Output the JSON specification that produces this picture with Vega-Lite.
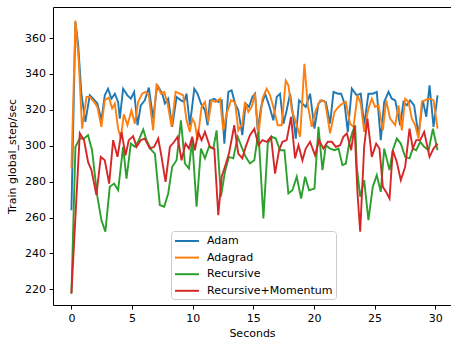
{
  "$schema": "https://vega.github.io/schema/vega-lite/v6.json",
  "width": 398,
  "height": 298,
  "autosize": "none",
  "padding": {"left": 53, "top": 7, "right": 0, "bottom": 40},
  "background": "white",
  "config": {
    "font": "DejaVu Sans",
    "view": {"stroke": null},
    "axis": {
      "grid": false,
      "domainColor": "black",
      "domainWidth": 1,
      "tickColor": "black",
      "tickWidth": 1,
      "tickSize": 4,
      "labelFont": "DejaVu Sans",
      "labelFontSize": 11,
      "labelColor": "black",
      "labelPadding": 3.5,
      "titleFont": "DejaVu Sans",
      "titleFontSize": 11,
      "titleFontWeight": "normal",
      "titleColor": "black"
    },
    "legend": {
      "orient": "none",
      "legendX": 118,
      "legendY": 224,
      "symbolType": "M-1,0H3",
      "symbolSize": 144,
      "symbolStrokeWidth": 2,
      "labelFont": "DejaVu Sans",
      "labelFontSize": 11,
      "labelColor": "black",
      "labelOffset": 19,
      "rowPadding": 4.6,
      "padding": 3,
      "fillColor": "white",
      "strokeColor": "#cccccc",
      "cornerRadius": 3
    }
  },
  "data": {
    "values": [
      {"optimizer": "Adam", "seconds": 0, "rate": 264.1},
      {"optimizer": "Adam", "seconds": 0.33, "rate": 368.9},
      {"optimizer": "Adam", "seconds": 0.55, "rate": 356.8},
      {"optimizer": "Adam", "seconds": 0.82, "rate": 329.0},
      {"optimizer": "Adam", "seconds": 1.15, "rate": 313.3},
      {"optimizer": "Adam", "seconds": 1.51, "rate": 328.1},
      {"optimizer": "Adam", "seconds": 1.79, "rate": 326.2},
      {"optimizer": "Adam", "seconds": 2.14, "rate": 323.5},
      {"optimizer": "Adam", "seconds": 2.47, "rate": 314.2},
      {"optimizer": "Adam", "seconds": 2.75, "rate": 328.1},
      {"optimizer": "Adam", "seconds": 3.02, "rate": 331.8},
      {"optimizer": "Adam", "seconds": 3.3, "rate": 326.2},
      {"optimizer": "Adam", "seconds": 3.58, "rate": 329.0},
      {"optimizer": "Adam", "seconds": 3.85, "rate": 324.4},
      {"optimizer": "Adam", "seconds": 3.99, "rate": 315.1},
      {"optimizer": "Adam", "seconds": 4.26, "rate": 331.8},
      {"optimizer": "Adam", "seconds": 4.62, "rate": 328.1},
      {"optimizer": "Adam", "seconds": 4.9, "rate": 326.2},
      {"optimizer": "Adam", "seconds": 5.17, "rate": 330.0},
      {"optimizer": "Adam", "seconds": 5.45, "rate": 311.4},
      {"optimizer": "Adam", "seconds": 5.72, "rate": 322.5},
      {"optimizer": "Adam", "seconds": 6.05, "rate": 325.3},
      {"optimizer": "Adam", "seconds": 6.38, "rate": 332.4},
      {"optimizer": "Adam", "seconds": 6.74, "rate": 315.1},
      {"optimizer": "Adam", "seconds": 7.02, "rate": 330.9},
      {"optimizer": "Adam", "seconds": 7.16, "rate": 332.8},
      {"optimizer": "Adam", "seconds": 7.49, "rate": 329.0},
      {"optimizer": "Adam", "seconds": 7.71, "rate": 323.5},
      {"optimizer": "Adam", "seconds": 7.98, "rate": 326.2},
      {"optimizer": "Adam", "seconds": 8.31, "rate": 310.5},
      {"optimizer": "Adam", "seconds": 8.67, "rate": 327.2},
      {"optimizer": "Adam", "seconds": 9.03, "rate": 325.3},
      {"optimizer": "Adam", "seconds": 9.3, "rate": 324.4},
      {"optimizer": "Adam", "seconds": 9.49, "rate": 329.0},
      {"optimizer": "Adam", "seconds": 9.77, "rate": 311.4},
      {"optimizer": "Adam", "seconds": 10.13, "rate": 331.8},
      {"optimizer": "Adam", "seconds": 10.4, "rate": 329.0},
      {"optimizer": "Adam", "seconds": 10.68, "rate": 323.5},
      {"optimizer": "Adam", "seconds": 11.01, "rate": 319.8},
      {"optimizer": "Adam", "seconds": 11.23, "rate": 311.4},
      {"optimizer": "Adam", "seconds": 11.42, "rate": 325.3},
      {"optimizer": "Adam", "seconds": 11.78, "rate": 326.2},
      {"optimizer": "Adam", "seconds": 12.11, "rate": 324.4},
      {"optimizer": "Adam", "seconds": 12.39, "rate": 325.3},
      {"optimizer": "Adam", "seconds": 12.61, "rate": 301.2},
      {"optimizer": "Adam", "seconds": 12.94, "rate": 330.0},
      {"optimizer": "Adam", "seconds": 13.21, "rate": 330.9},
      {"optimizer": "Adam", "seconds": 13.49, "rate": 323.5},
      {"optimizer": "Adam", "seconds": 13.76, "rate": 319.8},
      {"optimizer": "Adam", "seconds": 14.09, "rate": 305.9},
      {"optimizer": "Adam", "seconds": 14.37, "rate": 323.5},
      {"optimizer": "Adam", "seconds": 14.64, "rate": 321.6},
      {"optimizer": "Adam", "seconds": 14.92, "rate": 327.2},
      {"optimizer": "Adam", "seconds": 15.14, "rate": 329.0},
      {"optimizer": "Adam", "seconds": 15.36, "rate": 308.6},
      {"optimizer": "Adam", "seconds": 15.64, "rate": 321.6},
      {"optimizer": "Adam", "seconds": 15.97, "rate": 329.0},
      {"optimizer": "Adam", "seconds": 16.3, "rate": 322.5},
      {"optimizer": "Adam", "seconds": 16.65, "rate": 314.2},
      {"optimizer": "Adam", "seconds": 16.93, "rate": 327.2},
      {"optimizer": "Adam", "seconds": 17.2, "rate": 329.0},
      {"optimizer": "Adam", "seconds": 17.48, "rate": 312.3},
      {"optimizer": "Adam", "seconds": 17.75, "rate": 319.8},
      {"optimizer": "Adam", "seconds": 18.03, "rate": 329.0},
      {"optimizer": "Adam", "seconds": 18.31, "rate": 315.1},
      {"optimizer": "Adam", "seconds": 18.5, "rate": 304.0},
      {"optimizer": "Adam", "seconds": 18.77, "rate": 325.3},
      {"optimizer": "Adam", "seconds": 19.05, "rate": 323.5},
      {"optimizer": "Adam", "seconds": 19.32, "rate": 321.6},
      {"optimizer": "Adam", "seconds": 19.68, "rate": 329.0},
      {"optimizer": "Adam", "seconds": 20.04, "rate": 309.5},
      {"optimizer": "Adam", "seconds": 20.37, "rate": 323.5},
      {"optimizer": "Adam", "seconds": 20.65, "rate": 325.3},
      {"optimizer": "Adam", "seconds": 20.98, "rate": 324.4},
      {"optimizer": "Adam", "seconds": 21.33, "rate": 312.3},
      {"optimizer": "Adam", "seconds": 21.61, "rate": 330.0},
      {"optimizer": "Adam", "seconds": 21.97, "rate": 329.0},
      {"optimizer": "Adam", "seconds": 22.24, "rate": 329.0},
      {"optimizer": "Adam", "seconds": 22.52, "rate": 323.5},
      {"optimizer": "Adam", "seconds": 22.79, "rate": 307.7},
      {"optimizer": "Adam", "seconds": 23.12, "rate": 331.8},
      {"optimizer": "Adam", "seconds": 23.53, "rate": 328.1},
      {"optimizer": "Adam", "seconds": 23.86, "rate": 329.0},
      {"optimizer": "Adam", "seconds": 24.14, "rate": 311.4},
      {"optimizer": "Adam", "seconds": 24.49, "rate": 329.0},
      {"optimizer": "Adam", "seconds": 24.85, "rate": 329.0},
      {"optimizer": "Adam", "seconds": 25.18, "rate": 330.0},
      {"optimizer": "Adam", "seconds": 25.51, "rate": 303.1},
      {"optimizer": "Adam", "seconds": 25.79, "rate": 324.4},
      {"optimizer": "Adam", "seconds": 26.15, "rate": 330.0},
      {"optimizer": "Adam", "seconds": 26.42, "rate": 326.2},
      {"optimizer": "Adam", "seconds": 26.7, "rate": 325.3},
      {"optimizer": "Adam", "seconds": 27.11, "rate": 311.4},
      {"optimizer": "Adam", "seconds": 27.38, "rate": 324.4},
      {"optimizer": "Adam", "seconds": 27.66, "rate": 322.5},
      {"optimizer": "Adam", "seconds": 27.93, "rate": 325.3},
      {"optimizer": "Adam", "seconds": 28.26, "rate": 322.5},
      {"optimizer": "Adam", "seconds": 28.62, "rate": 305.9},
      {"optimizer": "Adam", "seconds": 28.98, "rate": 325.3},
      {"optimizer": "Adam", "seconds": 29.26, "rate": 316.1},
      {"optimizer": "Adam", "seconds": 29.53, "rate": 333.7},
      {"optimizer": "Adam", "seconds": 29.86, "rate": 310.5},
      {"optimizer": "Adam", "seconds": 30.19, "rate": 328.1},

      {"optimizer": "Adagrad", "seconds": 0, "rate": 287.3},
      {"optimizer": "Adagrad", "seconds": 0.33, "rate": 369.8},
      {"optimizer": "Adagrad", "seconds": 0.6, "rate": 347.6},
      {"optimizer": "Adagrad", "seconds": 0.88, "rate": 309.5},
      {"optimizer": "Adagrad", "seconds": 1.24, "rate": 327.2},
      {"optimizer": "Adagrad", "seconds": 1.51, "rate": 327.2},
      {"optimizer": "Adagrad", "seconds": 1.87, "rate": 324.4},
      {"optimizer": "Adagrad", "seconds": 2.14, "rate": 321.6},
      {"optimizer": "Adagrad", "seconds": 2.47, "rate": 310.5},
      {"optimizer": "Adagrad", "seconds": 2.75, "rate": 325.3},
      {"optimizer": "Adagrad", "seconds": 3.08, "rate": 326.9},
      {"optimizer": "Adagrad", "seconds": 3.36, "rate": 320.8},
      {"optimizer": "Adagrad", "seconds": 3.58, "rate": 323.5},
      {"optimizer": "Adagrad", "seconds": 3.85, "rate": 309.5},
      {"optimizer": "Adagrad", "seconds": 4.07, "rate": 304.0},
      {"optimizer": "Adagrad", "seconds": 4.32, "rate": 317.5},
      {"optimizer": "Adagrad", "seconds": 4.62, "rate": 311.4},
      {"optimizer": "Adagrad", "seconds": 4.95, "rate": 319.8},
      {"optimizer": "Adagrad", "seconds": 5.23, "rate": 312.3},
      {"optimizer": "Adagrad", "seconds": 5.5, "rate": 324.4},
      {"optimizer": "Adagrad", "seconds": 5.83, "rate": 329.0},
      {"optimizer": "Adagrad", "seconds": 6.11, "rate": 330.0},
      {"optimizer": "Adagrad", "seconds": 6.38, "rate": 328.1},
      {"optimizer": "Adagrad", "seconds": 6.74, "rate": 308.6},
      {"optimizer": "Adagrad", "seconds": 7.02, "rate": 334.6},
      {"optimizer": "Adagrad", "seconds": 7.38, "rate": 329.0},
      {"optimizer": "Adagrad", "seconds": 7.65, "rate": 330.0},
      {"optimizer": "Adagrad", "seconds": 7.93, "rate": 323.5},
      {"optimizer": "Adagrad", "seconds": 8.26, "rate": 310.5},
      {"optimizer": "Adagrad", "seconds": 8.59, "rate": 330.0},
      {"optimizer": "Adagrad", "seconds": 8.94, "rate": 329.0},
      {"optimizer": "Adagrad", "seconds": 9.22, "rate": 328.1},
      {"optimizer": "Adagrad", "seconds": 9.49, "rate": 314.2},
      {"optimizer": "Adagrad", "seconds": 9.77, "rate": 307.7},
      {"optimizer": "Adagrad", "seconds": 9.96, "rate": 315.1},
      {"optimizer": "Adagrad", "seconds": 10.18, "rate": 312.3},
      {"optimizer": "Adagrad", "seconds": 10.4, "rate": 303.1},
      {"optimizer": "Adagrad", "seconds": 10.73, "rate": 321.6},
      {"optimizer": "Adagrad", "seconds": 11.01, "rate": 324.4},
      {"optimizer": "Adagrad", "seconds": 11.28, "rate": 313.3},
      {"optimizer": "Adagrad", "seconds": 11.56, "rate": 325.3},
      {"optimizer": "Adagrad", "seconds": 11.89, "rate": 324.4},
      {"optimizer": "Adagrad", "seconds": 12.25, "rate": 326.2},
      {"optimizer": "Adagrad", "seconds": 12.52, "rate": 308.6},
      {"optimizer": "Adagrad", "seconds": 12.8, "rate": 317.9},
      {"optimizer": "Adagrad", "seconds": 13.16, "rate": 325.3},
      {"optimizer": "Adagrad", "seconds": 13.49, "rate": 324.4},
      {"optimizer": "Adagrad", "seconds": 13.76, "rate": 308.6},
      {"optimizer": "Adagrad", "seconds": 14.09, "rate": 312.3},
      {"optimizer": "Adagrad", "seconds": 14.31, "rate": 324.4},
      {"optimizer": "Adagrad", "seconds": 14.59, "rate": 318.9},
      {"optimizer": "Adagrad", "seconds": 14.86, "rate": 321.6},
      {"optimizer": "Adagrad", "seconds": 15.14, "rate": 329.0},
      {"optimizer": "Adagrad", "seconds": 15.42, "rate": 305.9},
      {"optimizer": "Adagrad", "seconds": 15.75, "rate": 326.2},
      {"optimizer": "Adagrad", "seconds": 16.1, "rate": 331.8},
      {"optimizer": "Adagrad", "seconds": 16.38, "rate": 328.1},
      {"optimizer": "Adagrad", "seconds": 16.65, "rate": 321.6},
      {"optimizer": "Adagrad", "seconds": 17.01, "rate": 311.4},
      {"optimizer": "Adagrad", "seconds": 17.34, "rate": 311.4},
      {"optimizer": "Adagrad", "seconds": 17.67, "rate": 336.3},
      {"optimizer": "Adagrad", "seconds": 17.89, "rate": 333.7},
      {"optimizer": "Adagrad", "seconds": 18.17, "rate": 319.8},
      {"optimizer": "Adagrad", "seconds": 18.5, "rate": 313.3},
      {"optimizer": "Adagrad", "seconds": 18.86, "rate": 305.0},
      {"optimizer": "Adagrad", "seconds": 19.21, "rate": 345.7},
      {"optimizer": "Adagrad", "seconds": 19.49, "rate": 322.5},
      {"optimizer": "Adagrad", "seconds": 19.82, "rate": 310.5},
      {"optimizer": "Adagrad", "seconds": 20.15, "rate": 319.8},
      {"optimizer": "Adagrad", "seconds": 20.51, "rate": 325.3},
      {"optimizer": "Adagrad", "seconds": 20.92, "rate": 324.4},
      {"optimizer": "Adagrad", "seconds": 21.33, "rate": 306.9},
      {"optimizer": "Adagrad", "seconds": 21.69, "rate": 318.9},
      {"optimizer": "Adagrad", "seconds": 22.02, "rate": 321.6},
      {"optimizer": "Adagrad", "seconds": 22.35, "rate": 323.5},
      {"optimizer": "Adagrad", "seconds": 22.63, "rate": 324.4},
      {"optimizer": "Adagrad", "seconds": 22.98, "rate": 312.3},
      {"optimizer": "Adagrad", "seconds": 23.26, "rate": 310.5},
      {"optimizer": "Adagrad", "seconds": 23.59, "rate": 328.1},
      {"optimizer": "Adagrad", "seconds": 23.86, "rate": 323.5},
      {"optimizer": "Adagrad", "seconds": 24.14, "rate": 307.7},
      {"optimizer": "Adagrad", "seconds": 24.49, "rate": 320.8},
      {"optimizer": "Adagrad", "seconds": 24.77, "rate": 326.2},
      {"optimizer": "Adagrad", "seconds": 25.04, "rate": 321.6},
      {"optimizer": "Adagrad", "seconds": 25.32, "rate": 322.5},
      {"optimizer": "Adagrad", "seconds": 25.68, "rate": 308.6},
      {"optimizer": "Adagrad", "seconds": 25.95, "rate": 325.3},
      {"optimizer": "Adagrad", "seconds": 26.28, "rate": 315.1},
      {"optimizer": "Adagrad", "seconds": 26.7, "rate": 311.4},
      {"optimizer": "Adagrad", "seconds": 26.97, "rate": 322.5},
      {"optimizer": "Adagrad", "seconds": 27.25, "rate": 308.6},
      {"optimizer": "Adagrad", "seconds": 27.52, "rate": 326.2},
      {"optimizer": "Adagrad", "seconds": 27.8, "rate": 324.4},
      {"optimizer": "Adagrad", "seconds": 28.07, "rate": 315.1},
      {"optimizer": "Adagrad", "seconds": 28.35, "rate": 311.4},
      {"optimizer": "Adagrad", "seconds": 28.62, "rate": 304.0},
      {"optimizer": "Adagrad", "seconds": 28.9, "rate": 324.4},
      {"optimizer": "Adagrad", "seconds": 29.26, "rate": 325.7},
      {"optimizer": "Adagrad", "seconds": 29.59, "rate": 326.2},
      {"optimizer": "Adagrad", "seconds": 29.86, "rate": 325.3},
      {"optimizer": "Adagrad", "seconds": 30.19, "rate": 309.5},

      {"optimizer": "Recursive", "seconds": 0, "rate": 217.7},
      {"optimizer": "Recursive", "seconds": 0.33, "rate": 299.4},
      {"optimizer": "Recursive", "seconds": 0.69, "rate": 304.0},
      {"optimizer": "Recursive", "seconds": 1.04, "rate": 304.0},
      {"optimizer": "Recursive", "seconds": 1.37, "rate": 305.9},
      {"optimizer": "Recursive", "seconds": 1.7, "rate": 297.5},
      {"optimizer": "Recursive", "seconds": 1.92, "rate": 284.5},
      {"optimizer": "Recursive", "seconds": 2.14, "rate": 271.6},
      {"optimizer": "Recursive", "seconds": 2.47, "rate": 258.6},
      {"optimizer": "Recursive", "seconds": 2.8, "rate": 252.1},
      {"optimizer": "Recursive", "seconds": 3.16, "rate": 277.1},
      {"optimizer": "Recursive", "seconds": 3.52, "rate": 278.9},
      {"optimizer": "Recursive", "seconds": 3.85, "rate": 275.2},
      {"optimizer": "Recursive", "seconds": 4.26, "rate": 299.4},
      {"optimizer": "Recursive", "seconds": 4.54, "rate": 281.7},
      {"optimizer": "Recursive", "seconds": 4.9, "rate": 301.2},
      {"optimizer": "Recursive", "seconds": 5.23, "rate": 299.4},
      {"optimizer": "Recursive", "seconds": 5.56, "rate": 303.1},
      {"optimizer": "Recursive", "seconds": 5.92, "rate": 309.0},
      {"optimizer": "Recursive", "seconds": 6.19, "rate": 303.1},
      {"optimizer": "Recursive", "seconds": 6.6, "rate": 297.5},
      {"optimizer": "Recursive", "seconds": 6.88, "rate": 295.6},
      {"optimizer": "Recursive", "seconds": 7.29, "rate": 266.9},
      {"optimizer": "Recursive", "seconds": 7.65, "rate": 266.0},
      {"optimizer": "Recursive", "seconds": 7.98, "rate": 273.4},
      {"optimizer": "Recursive", "seconds": 8.31, "rate": 288.3},
      {"optimizer": "Recursive", "seconds": 8.67, "rate": 291.9},
      {"optimizer": "Recursive", "seconds": 9.03, "rate": 314.2},
      {"optimizer": "Recursive", "seconds": 9.36, "rate": 290.1},
      {"optimizer": "Recursive", "seconds": 9.69, "rate": 287.3},
      {"optimizer": "Recursive", "seconds": 9.96, "rate": 303.1},
      {"optimizer": "Recursive", "seconds": 10.32, "rate": 266.0},
      {"optimizer": "Recursive", "seconds": 10.68, "rate": 298.4},
      {"optimizer": "Recursive", "seconds": 11.01, "rate": 293.0},
      {"optimizer": "Recursive", "seconds": 11.34, "rate": 299.4},
      {"optimizer": "Recursive", "seconds": 11.7, "rate": 298.4},
      {"optimizer": "Recursive", "seconds": 11.97, "rate": 308.6},
      {"optimizer": "Recursive", "seconds": 12.33, "rate": 271.6},
      {"optimizer": "Recursive", "seconds": 12.66, "rate": 285.5},
      {"optimizer": "Recursive", "seconds": 12.99, "rate": 293.8},
      {"optimizer": "Recursive", "seconds": 13.35, "rate": 293.0},
      {"optimizer": "Recursive", "seconds": 13.71, "rate": 305.0},
      {"optimizer": "Recursive", "seconds": 14.09, "rate": 298.4},
      {"optimizer": "Recursive", "seconds": 14.37, "rate": 293.8},
      {"optimizer": "Recursive", "seconds": 14.72, "rate": 290.1},
      {"optimizer": "Recursive", "seconds": 15.08, "rate": 291.9},
      {"optimizer": "Recursive", "seconds": 15.42, "rate": 307.8},
      {"optimizer": "Recursive", "seconds": 15.83, "rate": 259.5},
      {"optimizer": "Recursive", "seconds": 16.19, "rate": 301.2},
      {"optimizer": "Recursive", "seconds": 16.52, "rate": 305.0},
      {"optimizer": "Recursive", "seconds": 16.85, "rate": 304.0},
      {"optimizer": "Recursive", "seconds": 17.2, "rate": 297.5},
      {"optimizer": "Recursive", "seconds": 17.56, "rate": 297.5},
      {"optimizer": "Recursive", "seconds": 17.89, "rate": 273.4},
      {"optimizer": "Recursive", "seconds": 18.22, "rate": 275.2},
      {"optimizer": "Recursive", "seconds": 18.58, "rate": 282.7},
      {"optimizer": "Recursive", "seconds": 18.94, "rate": 270.6},
      {"optimizer": "Recursive", "seconds": 19.27, "rate": 282.7},
      {"optimizer": "Recursive", "seconds": 19.6, "rate": 275.2},
      {"optimizer": "Recursive", "seconds": 20.04, "rate": 276.1},
      {"optimizer": "Recursive", "seconds": 20.37, "rate": 310.5},
      {"optimizer": "Recursive", "seconds": 20.7, "rate": 286.4},
      {"optimizer": "Recursive", "seconds": 20.98, "rate": 300.3},
      {"optimizer": "Recursive", "seconds": 21.33, "rate": 298.4},
      {"optimizer": "Recursive", "seconds": 21.69, "rate": 297.5},
      {"optimizer": "Recursive", "seconds": 22.02, "rate": 298.4},
      {"optimizer": "Recursive", "seconds": 22.35, "rate": 289.2},
      {"optimizer": "Recursive", "seconds": 22.63, "rate": 290.1},
      {"optimizer": "Recursive", "seconds": 22.9, "rate": 301.2},
      {"optimizer": "Recursive", "seconds": 23.18, "rate": 307.7},
      {"optimizer": "Recursive", "seconds": 23.4, "rate": 311.4},
      {"optimizer": "Recursive", "seconds": 23.53, "rate": 288.3},
      {"optimizer": "Recursive", "seconds": 23.81, "rate": 271.6},
      {"optimizer": "Recursive", "seconds": 24.14, "rate": 280.8},
      {"optimizer": "Recursive", "seconds": 24.49, "rate": 258.6},
      {"optimizer": "Recursive", "seconds": 24.85, "rate": 277.1},
      {"optimizer": "Recursive", "seconds": 25.18, "rate": 283.6},
      {"optimizer": "Recursive", "seconds": 25.51, "rate": 274.3},
      {"optimizer": "Recursive", "seconds": 25.79, "rate": 298.4},
      {"optimizer": "Recursive", "seconds": 26.23, "rate": 286.4},
      {"optimizer": "Recursive", "seconds": 26.5, "rate": 297.5},
      {"optimizer": "Recursive", "seconds": 26.83, "rate": 304.0},
      {"optimizer": "Recursive", "seconds": 27.16, "rate": 301.2},
      {"optimizer": "Recursive", "seconds": 27.52, "rate": 293.8},
      {"optimizer": "Recursive", "seconds": 27.88, "rate": 293.0},
      {"optimizer": "Recursive", "seconds": 28.15, "rate": 298.4},
      {"optimizer": "Recursive", "seconds": 28.43, "rate": 297.5},
      {"optimizer": "Recursive", "seconds": 28.76, "rate": 302.2},
      {"optimizer": "Recursive", "seconds": 29.09, "rate": 299.4},
      {"optimizer": "Recursive", "seconds": 29.45, "rate": 297.5},
      {"optimizer": "Recursive", "seconds": 29.81, "rate": 309.5},
      {"optimizer": "Recursive", "seconds": 30.19, "rate": 297.5},

      {"optimizer": "Recursive+Momentum", "seconds": 0, "rate": 217.7},
      {"optimizer": "Recursive+Momentum", "seconds": 0.69, "rate": 306.9},
      {"optimizer": "Recursive+Momentum", "seconds": 1.04, "rate": 303.1},
      {"optimizer": "Recursive+Momentum", "seconds": 1.37, "rate": 291.0},
      {"optimizer": "Recursive+Momentum", "seconds": 1.65, "rate": 286.4},
      {"optimizer": "Recursive+Momentum", "seconds": 2.06, "rate": 272.5},
      {"optimizer": "Recursive+Momentum", "seconds": 2.42, "rate": 293.8},
      {"optimizer": "Recursive+Momentum", "seconds": 2.75, "rate": 291.9},
      {"optimizer": "Recursive+Momentum", "seconds": 3.11, "rate": 278.9},
      {"optimizer": "Recursive+Momentum", "seconds": 3.44, "rate": 303.1},
      {"optimizer": "Recursive+Momentum", "seconds": 3.8, "rate": 293.8},
      {"optimizer": "Recursive+Momentum", "seconds": 4.13, "rate": 307.7},
      {"optimizer": "Recursive+Momentum", "seconds": 4.46, "rate": 294.7},
      {"optimizer": "Recursive+Momentum", "seconds": 4.73, "rate": 303.1},
      {"optimizer": "Recursive+Momentum", "seconds": 5.09, "rate": 305.3},
      {"optimizer": "Recursive+Momentum", "seconds": 5.37, "rate": 299.4},
      {"optimizer": "Recursive+Momentum", "seconds": 5.72, "rate": 303.1},
      {"optimizer": "Recursive+Momentum", "seconds": 6.05, "rate": 304.0},
      {"optimizer": "Recursive+Momentum", "seconds": 6.47, "rate": 298.4},
      {"optimizer": "Recursive+Momentum", "seconds": 6.82, "rate": 299.4},
      {"optimizer": "Recursive+Momentum", "seconds": 7.16, "rate": 304.0},
      {"optimizer": "Recursive+Momentum", "seconds": 7.43, "rate": 293.8},
      {"optimizer": "Recursive+Momentum", "seconds": 7.76, "rate": 279.9},
      {"optimizer": "Recursive+Momentum", "seconds": 8.12, "rate": 299.4},
      {"optimizer": "Recursive+Momentum", "seconds": 8.48, "rate": 302.2},
      {"optimizer": "Recursive+Momentum", "seconds": 8.75, "rate": 305.0},
      {"optimizer": "Recursive+Momentum", "seconds": 9.08, "rate": 291.9},
      {"optimizer": "Recursive+Momentum", "seconds": 9.41, "rate": 301.2},
      {"optimizer": "Recursive+Momentum", "seconds": 9.69, "rate": 298.4},
      {"optimizer": "Recursive+Momentum", "seconds": 9.96, "rate": 305.0},
      {"optimizer": "Recursive+Momentum", "seconds": 10.18, "rate": 297.5},
      {"optimizer": "Recursive+Momentum", "seconds": 10.46, "rate": 307.7},
      {"optimizer": "Recursive+Momentum", "seconds": 10.73, "rate": 303.1},
      {"optimizer": "Recursive+Momentum", "seconds": 11.01, "rate": 307.7},
      {"optimizer": "Recursive+Momentum", "seconds": 11.42, "rate": 299.4},
      {"optimizer": "Recursive+Momentum", "seconds": 11.78, "rate": 298.4},
      {"optimizer": "Recursive+Momentum", "seconds": 12.11, "rate": 261.3},
      {"optimizer": "Recursive+Momentum", "seconds": 12.39, "rate": 282.7},
      {"optimizer": "Recursive+Momentum", "seconds": 12.66, "rate": 288.3},
      {"optimizer": "Recursive+Momentum", "seconds": 12.99, "rate": 295.6},
      {"optimizer": "Recursive+Momentum", "seconds": 13.43, "rate": 311.4},
      {"optimizer": "Recursive+Momentum", "seconds": 13.76, "rate": 295.6},
      {"optimizer": "Recursive+Momentum", "seconds": 14.09, "rate": 293.0},
      {"optimizer": "Recursive+Momentum", "seconds": 14.37, "rate": 299.4},
      {"optimizer": "Recursive+Momentum", "seconds": 14.72, "rate": 305.9},
      {"optimizer": "Recursive+Momentum", "seconds": 15.08, "rate": 309.5},
      {"optimizer": "Recursive+Momentum", "seconds": 15.42, "rate": 300.3},
      {"optimizer": "Recursive+Momentum", "seconds": 15.75, "rate": 303.1},
      {"optimizer": "Recursive+Momentum", "seconds": 16.1, "rate": 302.2},
      {"optimizer": "Recursive+Momentum", "seconds": 16.46, "rate": 305.0},
      {"optimizer": "Recursive+Momentum", "seconds": 16.79, "rate": 284.5},
      {"optimizer": "Recursive+Momentum", "seconds": 17.12, "rate": 297.5},
      {"optimizer": "Recursive+Momentum", "seconds": 17.4, "rate": 302.2},
      {"optimizer": "Recursive+Momentum", "seconds": 17.75, "rate": 303.1},
      {"optimizer": "Recursive+Momentum", "seconds": 18.11, "rate": 316.1},
      {"optimizer": "Recursive+Momentum", "seconds": 18.44, "rate": 293.0},
      {"optimizer": "Recursive+Momentum", "seconds": 18.72, "rate": 300.3},
      {"optimizer": "Recursive+Momentum", "seconds": 19.05, "rate": 291.9},
      {"optimizer": "Recursive+Momentum", "seconds": 19.32, "rate": 298.4},
      {"optimizer": "Recursive+Momentum", "seconds": 19.68, "rate": 302.2},
      {"optimizer": "Recursive+Momentum", "seconds": 20.09, "rate": 294.7},
      {"optimizer": "Recursive+Momentum", "seconds": 20.42, "rate": 303.1},
      {"optimizer": "Recursive+Momentum", "seconds": 20.78, "rate": 298.4},
      {"optimizer": "Recursive+Momentum", "seconds": 21.14, "rate": 302.2},
      {"optimizer": "Recursive+Momentum", "seconds": 21.47, "rate": 302.2},
      {"optimizer": "Recursive+Momentum", "seconds": 21.8, "rate": 299.4},
      {"optimizer": "Recursive+Momentum", "seconds": 22.16, "rate": 300.3},
      {"optimizer": "Recursive+Momentum", "seconds": 22.43, "rate": 305.0},
      {"optimizer": "Recursive+Momentum", "seconds": 22.71, "rate": 306.9},
      {"optimizer": "Recursive+Momentum", "seconds": 23.07, "rate": 297.5},
      {"optimizer": "Recursive+Momentum", "seconds": 23.34, "rate": 310.9},
      {"optimizer": "Recursive+Momentum", "seconds": 23.59, "rate": 273.5},
      {"optimizer": "Recursive+Momentum", "seconds": 23.81, "rate": 252.1},
      {"optimizer": "Recursive+Momentum", "seconds": 24.14, "rate": 299.4},
      {"optimizer": "Recursive+Momentum", "seconds": 24.41, "rate": 315.1},
      {"optimizer": "Recursive+Momentum", "seconds": 24.77, "rate": 293.8},
      {"optimizer": "Recursive+Momentum", "seconds": 25.13, "rate": 301.2},
      {"optimizer": "Recursive+Momentum", "seconds": 25.4, "rate": 298.4},
      {"optimizer": "Recursive+Momentum", "seconds": 25.68, "rate": 277.1},
      {"optimizer": "Recursive+Momentum", "seconds": 25.95, "rate": 274.3},
      {"optimizer": "Recursive+Momentum", "seconds": 26.23, "rate": 270.6},
      {"optimizer": "Recursive+Momentum", "seconds": 26.5, "rate": 297.5},
      {"optimizer": "Recursive+Momentum", "seconds": 26.83, "rate": 291.0},
      {"optimizer": "Recursive+Momentum", "seconds": 27.16, "rate": 280.8},
      {"optimizer": "Recursive+Momentum", "seconds": 27.52, "rate": 288.3},
      {"optimizer": "Recursive+Momentum", "seconds": 27.88, "rate": 309.5},
      {"optimizer": "Recursive+Momentum", "seconds": 28.15, "rate": 298.4},
      {"optimizer": "Recursive+Momentum", "seconds": 28.43, "rate": 303.1},
      {"optimizer": "Recursive+Momentum", "seconds": 28.76, "rate": 303.1},
      {"optimizer": "Recursive+Momentum", "seconds": 29.09, "rate": 307.7},
      {"optimizer": "Recursive+Momentum", "seconds": 29.53, "rate": 293.8},
      {"optimizer": "Recursive+Momentum", "seconds": 29.86, "rate": 298.4},
      {"optimizer": "Recursive+Momentum", "seconds": 30.19, "rate": 301.2}
    ]
  },
  "encoding": {
    "y": {
      "field": "rate",
      "type": "quantitative",
      "scale": {"domain": [211.26, 377.3], "nice": false, "zero": false},
      "axis": {
        "values": [220, 240, 260, 280, 300, 320, 340, 360],
        "title": "Train global_step/sec",
        "titlePadding": 7
      }
    }
  },
  "layer": [
    {
      "mark": {"type": "line", "strokeWidth": 1.9, "clip": true},
      "encoding": {
        "x": {
          "field": "seconds",
          "type": "quantitative",
          "scale": {"domain": [-1.52, 31.3], "nice": false, "zero": false},
          "axis": {
            "orient": "bottom",
            "values": [0, 5, 10, 15, 20, 25, 30],
            "title": "Seconds",
            "titlePadding": 4
          }
        },
        "color": {
          "field": "optimizer",
          "type": "nominal",
          "scale": {
            "domain": ["Adam", "Adagrad", "Recursive", "Recursive+Momentum"],
            "range": ["#1f77b4", "#ff7f0e", "#2ca02c", "#d62728"]
          },
          "legend": {"title": null}
        }
      }
    },
    {
      "mark": {"type": "line", "opacity": 0},
      "encoding": {
        "x": {
          "field": "seconds",
          "type": "quantitative",
          "scale": {"domain": [-1.52, 31.3], "nice": false, "zero": false},
          "axis": {"orient": "top", "labels": false, "ticks": false, "title": null}
        },
        "detail": {"field": "optimizer"}
      }
    }
  ],
  "resolve": {"axis": {"x": "independent"}}
}
